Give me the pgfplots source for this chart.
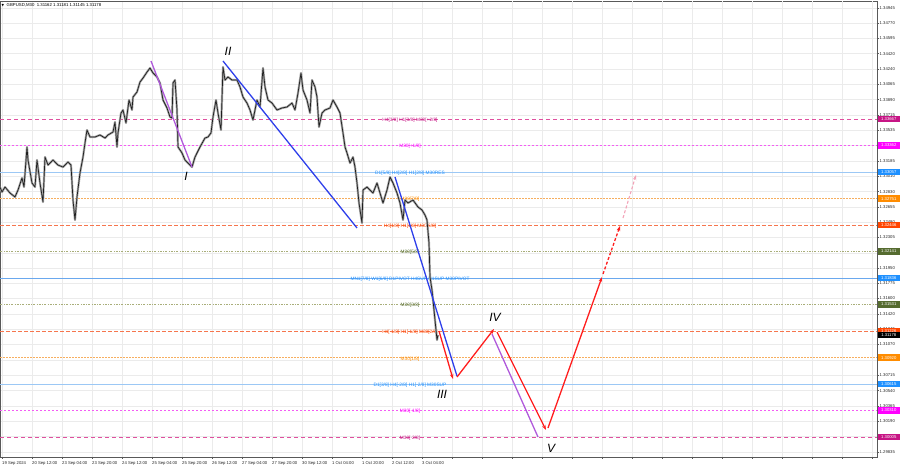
\documentclass[border=0pt]{standalone}
\usepackage{fontspec}
\setmainfont{Liberation Sans}
\newfontfamily\dejavu{DejaVu Sans}
\usepackage{pgfplots}
\usepackage{pgfplotstable}
\pgfplotsset{compat=1.18}
\usetikzlibrary{arrows.meta}

\definecolor{mvred}{HTML}{C71585}
\definecolor{magen}{HTML}{FF00FF}
\definecolor{dblue}{HTML}{1E90FF}
\definecolor{dorange}{HTML}{FF8C00}
\definecolor{ored}{HTML}{FF4500}
\definecolor{olive}{HTML}{556B2F}
\definecolor{lpink}{HTML}{E0509F}
\definecolor{lmag}{HTML}{F45CF4}
\definecolor{lblue}{HTML}{9CC8F5}
\definecolor{pblue}{HTML}{6AA8EE}
\definecolor{lorange}{HTML}{F7AE5E}
\definecolor{lsalmon}{HTML}{F6764E}
\definecolor{lolive}{HTML}{A9AE7A}
\definecolor{wblue}{HTML}{2E3FEA}
\definecolor{wpurple}{HTML}{B05ADB}
\definecolor{wred}{HTML}{FF1E1E}
\definecolor{wpink}{HTML}{F3A3B8}

\newcommand{\lvl}{\fontsize{4.8}{5}\selectfont}
\newcommand{\tkf}{\fontsize{4.2}{5}\selectfont}

\pgfplotstableread{
x y
0 1.32884
2 1.32826
5 1.32884
10 1.32815
15 1.32769
18 1.32849
22 1.32988
24 1.32884
27 1.33345
28 1.33195
32 1.32930
35 1.32884
37 1.33195
40 1.32930
43 1.32711
45 1.33229
48 1.33137
53 1.33195
58 1.33137
63 1.33114
68 1.33172
71 1.33137
73 1.32734
75 1.32504
77 1.32769
80 1.33045
83 1.33229
85 1.33391
87 1.33540
90 1.33460
95 1.33460
100 1.33483
105 1.33448
108 1.33483
113 1.33517
115 1.33632
117 1.33345
118 1.33506
121 1.33736
123 1.33771
126 1.33621
129 1.33886
132 1.33771
133 1.33920
137 1.33978
140 1.34093
143 1.34139
147 1.34208
150 1.34254
153 1.34197
157 1.34151
160 1.34082
163 1.33886
167 1.33794
170 1.33690
172 1.33679
173 1.34082
175 1.34116
177 1.33771
178 1.33345
182 1.33276
185 1.33195
188 1.33160
192 1.33114
195 1.33229
200 1.33345
205 1.33448
208 1.33460
211 1.33506
213 1.33690
216 1.33886
218 1.33736
221 1.33540
223 1.34266
225 1.34116
228 1.34151
232 1.34116
237 1.34116
240 1.34036
243 1.33920
247 1.33851
250 1.33771
253 1.33656
257 1.33886
260 1.33805
263 1.34254
265 1.34036
268 1.33886
272 1.33851
277 1.33771
282 1.33794
287 1.33805
292 1.33851
295 1.33771
298 1.33966
301 1.34197
303 1.34001
307 1.33886
310 1.33736
312 1.34116
315 1.34036
317 1.33920
319 1.33575
322 1.33736
325 1.33771
330 1.33794
333 1.33886
337 1.33805
340 1.33736
343 1.33506
345 1.33345
347 1.33276
350 1.33160
353 1.33229
355 1.33114
357 1.32930
359 1.32700
362 1.32469
363 1.32849
367 1.32884
370 1.32849
373 1.32815
377 1.32930
380 1.32815
383 1.32700
387 1.32849
390 1.32999
393 1.32930
397 1.32815
400 1.32700
403 1.32504
405 1.32734
408 1.32700
413 1.32734
418 1.32654
422 1.32619
425 1.32561
427 1.32504
429 1.32239
430 1.31848
432 1.31698
434 1.31467
436 1.31237
437 1.31122
438 1.31178
}\price

\begin{document}
\begin{tikzpicture}
\begin{axis}[
  at={(0pt,11pt)}, anchor=south west,
  width=877pt, height=456pt, scale only axis,
  xmin=0, xmax=877, ymin=1.29775, ymax=1.35026,
  clip=false,
  axis line style={black!65, line width=0.4pt},
  grid=major, grid style={black!8, line width=0.4pt},
  xtick={2,32,62,92,122,152,182,212,242,272,302,332,362,392,422},
  xticklabels={19 Sep 2024,20 Sep 12:00,23 Sep 04:00,23 Sep 20:00,24 Sep 12:00,25 Sep 04:00,25 Sep 20:00,26 Sep 12:00,27 Sep 04:00,27 Sep 20:00,30 Sep 12:00,1 Oct 04:00,1 Oct 20:00,2 Oct 12:00,3 Oct 04:00},
  extra x ticks={452,482,512,542,572,602,632,662,692,722,752,782,812,842,872},
  extra x tick labels={},
  extra x tick style={grid=major},
  ytick={1.34945,1.34770,1.34595,1.34420,1.34240,1.34065,1.33890,1.33715,1.33535,1.33360,1.33185,1.33010,1.32830,1.32655,1.32480,1.32305,1.32125,1.31950,1.31775,1.31600,1.31420,1.31245,1.31070,1.30890,1.30715,1.30540,1.30365,1.30190,1.30010,1.29835},
  yticklabels={1.34945,1.34770,1.34595,1.34420,1.34240,1.34065,1.33890,1.33715,1.33535,1.33360,1.33185,1.33010,1.32830,1.32655,1.32480,1.32305,1.32125,1.31950,1.31775,1.31600,1.31420,1.31245,1.31070,1.30890,1.30715,1.30540,1.30365,1.30190,1.30010,1.29835},
  ytick pos=right, xtick pos=bottom,
  tick align=outside, major tick length=2pt,
  tick style={black!65, line width=0.4pt},
  ticklabel style={font=\tkf, text=black!85},
  xticklabel style={anchor=north west, inner sep=0.5pt, xshift=-0.5pt, yshift=-1.5pt},
  yticklabel style={anchor=west, inner sep=0.5pt},
]
% level lines
\addplot[lpink, dash pattern=on 4pt off 3pt, line width=0.5pt] coordinates {(0,1.33667) (877,1.33667)};
\addplot[lmag, dash pattern=on 2pt off 2pt, line width=0.5pt] coordinates {(0,1.33362) (877,1.33362)};
\addplot[lblue, line width=0.6pt] coordinates {(0,1.33057) (877,1.33057)};
\addplot[lorange, dash pattern=on 1.5pt off 1.5pt, line width=0.5pt] coordinates {(0,1.32751) (877,1.32751)};
\addplot[lsalmon, dash pattern=on 4pt off 2pt, line width=0.5pt] coordinates {(0,1.32446) (877,1.32446)};
\addplot[lolive, dash pattern=on 2pt off 1.5pt on 0.5pt off 1.5pt, line width=0.5pt] coordinates {(0,1.32141) (877,1.32141)};
\addplot[pblue, line width=0.6pt] coordinates {(0,1.31836) (877,1.31836)};
\addplot[lolive, dash pattern=on 2pt off 1.5pt on 0.5pt off 1.5pt, line width=0.5pt] coordinates {(0,1.31531) (877,1.31531)};
\addplot[lsalmon, dash pattern=on 4pt off 2pt, line width=0.5pt] coordinates {(0,1.31226) (877,1.31226)};
\addplot[lorange, dash pattern=on 1.5pt off 1.5pt, line width=0.5pt] coordinates {(0,1.30920) (877,1.30920)};
\addplot[lblue, line width=0.6pt] coordinates {(0,1.30615) (877,1.30615)};
\addplot[lmag, dash pattern=on 2pt off 2pt, line width=0.5pt] coordinates {(0,1.30310) (877,1.30310)};
\addplot[lpink, dash pattern=on 4pt off 3pt, line width=0.5pt] coordinates {(0,1.30005) (877,1.30005)};
% level labels
\node[text=mvred, font=\lvl, inner sep=0pt] at (axis cs:410,1.33667) [yshift=-1.2pt] {H4[3/8] H1[3/8] M30[+2/8]};
\node[text=magen, font=\lvl, inner sep=0pt] at (axis cs:410,1.33362) [yshift=-1.2pt] {M30[+1/8]};
\node[text=dblue, font=\lvl, inner sep=0pt] at (axis cs:410,1.33057) [yshift=-1.2pt] {D1[5/8] H4[2/8] H1[2/8] M30RES};
\node[text=dorange, font=\lvl, inner sep=0pt] at (axis cs:410,1.32751) [yshift=-1.2pt] {M30[7/8]};
\node[text=ored, font=\lvl, inner sep=0pt] at (axis cs:410,1.32446) [yshift=-1.2pt] {H4[1/8] H1[1/8] M30[6/8]};
\node[text=olive, font=\lvl, inner sep=0pt] at (axis cs:410,1.32141) [yshift=-1.2pt] {M30[5/8]};
\node[text=dblue, font=\lvl, inner sep=0pt] at (axis cs:410,1.31836) [yshift=-1.2pt] {MN1[7/8] W1[6/8] D1PIVOT H4SUP H1SUP M30PIVOT};
\node[text=olive, font=\lvl, inner sep=0pt] at (axis cs:410,1.31531) [yshift=-1.2pt] {M30[3/8]};
\node[text=ored, font=\lvl, inner sep=0pt] at (axis cs:410,1.31226) [yshift=-1.2pt] {H4[-1/8] H1[-1/8] M30[2/8]};
\node[text=dorange, font=\lvl, inner sep=0pt] at (axis cs:410,1.30920) [yshift=-1.2pt] {M30[1/8]};
\node[text=dblue, font=\lvl, inner sep=0pt] at (axis cs:410,1.30615) [yshift=-1.2pt] {D1[3/8] H4[-2/8] H1[-2/8] M30SUP};
\node[text=magen, font=\lvl, inner sep=0pt] at (axis cs:410,1.30310) [yshift=-1.2pt] {M30[-1/8]};
\node[text=mvred, font=\lvl, inner sep=0pt] at (axis cs:410,1.30005) [yshift=-1.2pt] {M30[-2/8]};
% price
\addplot[black!35, line width=2.2pt, line join=round] table[x=x,y=y] {\price};
\addplot[black!88, line width=0.7pt, line join=round] table[x=x,y=y] {\price};
% wave lines
\addplot[wpurple, line width=1.3pt] coordinates {(151,1.34335) (192,1.33114)};
\addplot[wblue, line width=1.3pt] coordinates {(223,1.34335) (357,1.32412)};
\addplot[wblue, line width=1.3pt] coordinates {(395,1.32999) (457,1.30707)};
\addplot[wpurple, line width=1.3pt] coordinates {(492,1.31191) (538,1.30005)};
\addplot[wred, line width=1.3pt, -{Stealth[length=5pt,width=3.5pt]}] coordinates {(439,1.31226) (453,1.30673)};
\addplot[wred, line width=1.3pt, -{Stealth[length=5pt,width=3.5pt]}] coordinates {(457,1.30696) (494,1.31249)};
\addplot[wred, line width=1.3pt, -{Stealth[length=5pt,width=3.5pt]}] coordinates {(497,1.31214) (546,1.30086)};
\addplot[wred, line width=1.3pt, -{Stealth[length=5pt,width=3.5pt]}] coordinates {(548,1.30109) (602,1.31848)};
\addplot[wred, line width=1.3pt, dash pattern=on 3pt off 2pt, -{Stealth[length=5pt,width=3.5pt]}] coordinates {(603,1.31882) (620,1.32435)};
\addplot[wpink, line width=1.1pt, dash pattern=on 3pt off 2pt, -{Stealth[length=5pt,width=3.5pt]}] coordinates {(623,1.32527) (636,1.33022)};
% wave labels
\node[font=\fontsize{12}{12}\selectfont\itshape] at (axis cs:186,1.33011) {I};
\node[font=\fontsize{12}{12}\selectfont\itshape] at (axis cs:228,1.34450) {II};
\node[font=\fontsize{12}{12}\selectfont\itshape] at (axis cs:442,1.30500) {III};
\node[font=\fontsize{12}{12}\selectfont\itshape] at (axis cs:495,1.31387) {IV};
\node[font=\fontsize{12}{12}\selectfont\itshape] at (axis cs:551,1.29878) {V};
% header
\node[anchor=west, font=\fontsize{4.3}{5}\selectfont, inner sep=0pt] at ([xshift=6.5pt,yshift=-4.5pt]rel axis cs:0,1) {GBPUSD,M30\ \ 1.31162 1.31181 1.31145 1.31178};
\node[font=\dejavu\fontsize{3.2}{3.2}\selectfont, inner sep=0pt] at ([xshift=2.8pt,yshift=-4.5pt]rel axis cs:0,1) {▼};
% right box anchors
\coordinate (r1) at (axis cs:877,1.33667);
\coordinate (r2) at (axis cs:877,1.33362);
\coordinate (r3) at (axis cs:877,1.33057);
\coordinate (r4) at (axis cs:877,1.32751);
\coordinate (r5) at (axis cs:877,1.32446);
\coordinate (r6) at (axis cs:877,1.32141);
\coordinate (r7) at (axis cs:877,1.31836);
\coordinate (r8) at (axis cs:877,1.31531);
\coordinate (r9) at (axis cs:877,1.31226);
\coordinate (r10) at (axis cs:877,1.31178);
\coordinate (r11) at (axis cs:877,1.30920);
\coordinate (r12) at (axis cs:877,1.30615);
\coordinate (r13) at (axis cs:877,1.30310);
\coordinate (r14) at (axis cs:877,1.30005);
\end{axis}
\foreach \c/\v/\col in {r1/1.33667/mvred, r2/1.33362/magen, r3/1.33057/dblue, r4/1.32751/dorange, r5/1.32446/ored, r6/1.32141/olive, r7/1.31836/dblue, r8/1.31531/olive, r9/1.31226/ored, r10/1.31178/black, r11/1.30920/dorange, r12/1.30615/dblue, r13/1.30310/magen, r14/1.30005/mvred}{
  \node[anchor=west, fill=\col, text=white, font=\tkf, inner sep=0pt, minimum height=6.2pt, minimum width=22pt] at ([xshift=0.6pt]\c) {\v};
}
\pgfresetboundingbox
\path[use as bounding box] (0pt,0pt) rectangle (900pt,468pt);
\end{tikzpicture}
\end{document}
